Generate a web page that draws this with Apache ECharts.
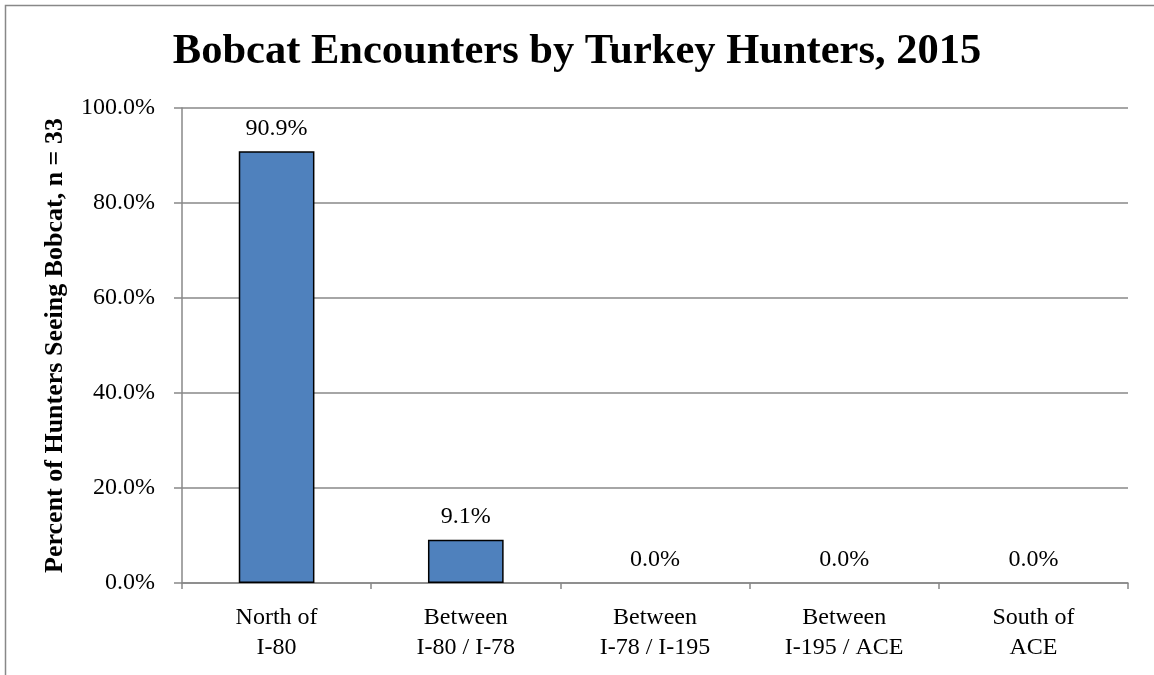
<!DOCTYPE html>
<html>
<head>
<meta charset="utf-8">
<script src="https://cdn.jsdelivr.net/npm/echarts@6/dist/echarts.min.js"></script>
<style>
    html, body { margin: 0; padding: 0; background: #fff; }
    #chart { width: 1154px; height: 675px; }
</style>
</head>
<body>
<div id="chart"></div>
<script>
var categories = ['North of\nI-80', 'Between\nI-80 / I-78', 'Between\nI-78 / I-195', 'Between\nI-195 / ACE', 'South of\nACE'];
var percents = [90.9, 9.1, 0.0, 0.0, 0.0];
var yTicks = [0, 20, 40, 60, 80, 100];

var serif = "'Liberation Serif', 'Times New Roman', serif";
var barColor = "#4F81BD";
var lineColor = "#888888";

// zero bars show no outline in the original
var barData = percents.map(function (v) {
    return { value: v, itemStyle: { borderWidth: v > 0 ? 1.5 : 0 } };
});

var myChart = echarts.init(document.getElementById('chart'));
var option = {
    animation: false,
    textStyle: {
        fontFamily: serif
    },
    title: {
        text: 'Bobcat Encounters by Turkey Hunters, 2015',
        left: 'center',
        top: 26,
        textStyle: {
            fontFamily: serif,
            fontSize: 42.5,
            fontWeight: 'bold',
            color: '#000'
        }
    },
    graphic: [
        {
            type: 'rect',
            shape: { x: 5.5, y: 5.5, width: 1170, height: 700 },
            style: { fill: 'none', stroke: lineColor, lineWidth: 1.5 },
            silent: true
        }
    ],
    grid: {
        left: 182,
        right: 26,
        top: 108,
        bottom: 92
    },
    xAxis: {
        type: 'category',
        data: categories,
        axisLine: { lineStyle: { color: lineColor, width: 1.5 } },
        axisTick: { show: true, length: 6, lineStyle: { color: lineColor, width: 1.5 } },
        axisLabel: {
            margin: 20,
            fontFamily: serif,
            fontSize: 24,
            lineHeight: 30,
            color: '#000',
            interval: 0
        }
    },
    yAxis: {
        type: 'value',
        min: yTicks[0],
        max: yTicks[yTicks.length - 1],
        interval: yTicks[1] - yTicks[0],
        name: 'Percent of Hunters Seeing Bobcat, n = 33',
        nameLocation: 'middle',
        nameGap: 114,
        nameTextStyle: {
            fontFamily: serif,
            fontSize: 26,
            fontWeight: 'bold',
            color: '#000'
        },
        axisLine: { show: true, lineStyle: { color: lineColor, width: 1.5 } },
        axisTick: { show: true, length: 8, lineStyle: { color: lineColor, width: 1.5 } },
        splitLine: { lineStyle: { color: lineColor, width: 1.5 } },
        axisLabel: {
            margin: 27,
            fontFamily: serif,
            fontSize: 24,
            color: '#000',
            formatter: function (v) { return v.toFixed(1) + '%'; }
        }
    },
    series: [
        {
            type: 'bar',
            data: barData,
            barWidth: '40%',
            itemStyle: {
                color: barColor,
                borderColor: '#000',
                borderWidth: 1.5
            },
            label: {
                show: true,
                position: 'top',
                distance: 11,
                fontFamily: serif,
                fontSize: 24,
                color: '#000',
                formatter: function (p) { return p.value.toFixed(1) + '%'; }
            }
        }
    ]
};

myChart.setOption(option);
</script>
</body>
</html>
